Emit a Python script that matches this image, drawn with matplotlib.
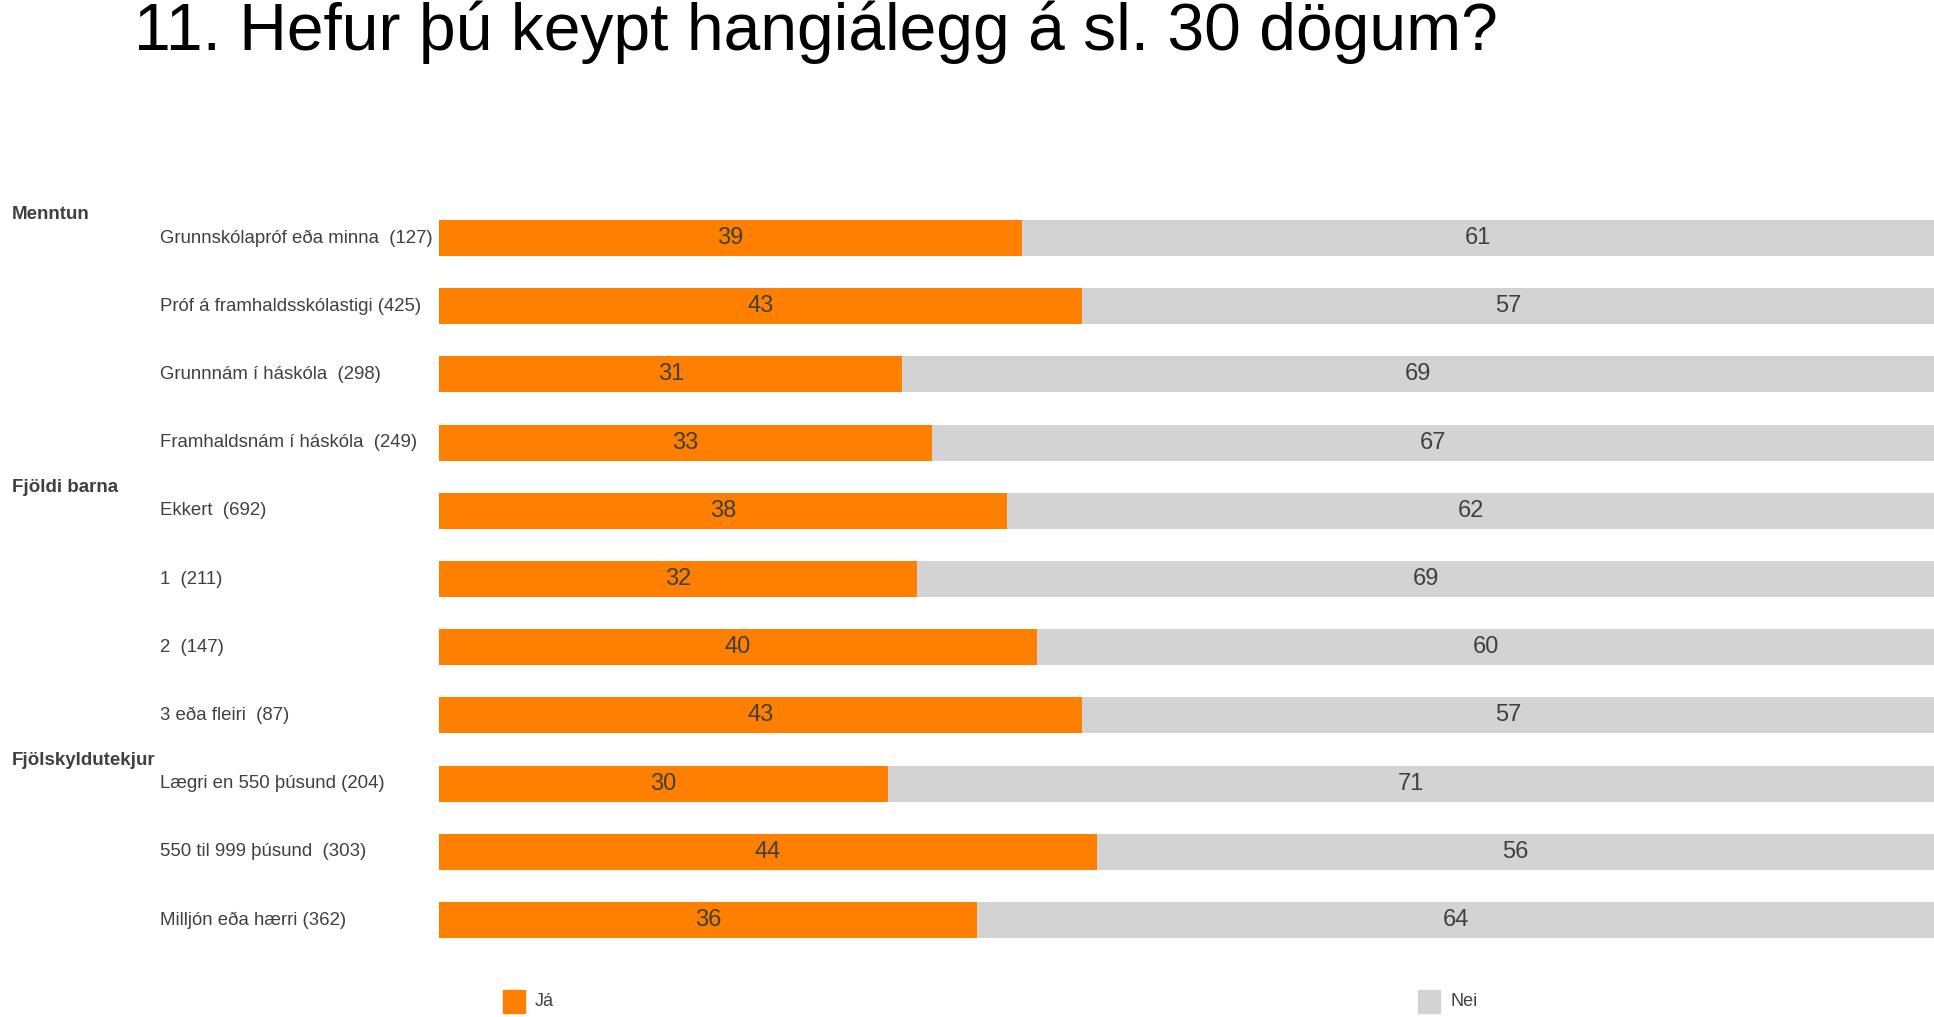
import matplotlib
matplotlib.use("Agg")
import matplotlib.pyplot as plt
from matplotlib.patches import Rectangle
import matplotlib.transforms as mtransforms

plt.rcParams['font.family'] = ['Liberation Sans', 'DejaVu Sans']

title = "11. Hefur þú keypt hangiálegg á sl. 30 dögum?"
categories = [
    "Grunnskólapróf eða minna  (127)",
    "Próf á framhaldsskólastigi (425)",
    "Grunnnám í háskóla  (298)",
    "Framhaldsnám í háskóla  (249)",
    "Ekkert  (692)",
    "1  (211)",
    "2  (147)",
    "3 eða fleiri  (87)",
    "Lægri en 550 þúsund (204)",
    "550 til 999 þúsund  (303)",
    "Milljón eða hærri (362)",
]
groups = ["Menntun", "Fjöldi barna", "Fjölskyldutekjur"]
group_start = [0, 4, 8]
ja = [39, 43, 31, 33, 38, 32, 40, 43, 30, 44, 36]
nei = [61, 57, 69, 67, 62, 69, 60, 57, 71, 56, 64]
series_names = ["Já", "Nei"]
colors = ["#FF8000", "#D3D3D3"]
text_color = "#404040"

W, H = 1934, 1017
fig = plt.figure(figsize=(W / 100, H / 100), dpi=100)
top_c, bot_c = 238, 920
sp = (bot_c - top_c) / 10
ax = fig.add_axes([439 / W, 1 - (bot_c + sp / 2) / H, 1 - 439 / W, (bot_c - top_c + sp) / H])

y = list(range(len(categories)))
bh = 36 / sp
ax.barh(y, ja, height=bh, color=colors[0], left=0)
ax.barh(y, nei, height=bh, color=colors[1], left=ja)
ax.set_xlim(0, 100)
ax.set_ylim(len(categories) - 0.5, -0.5)
ax.axis('off')

for i in y:
    ax.text(ja[i] / 2, i, str(ja[i]), ha='center', va='center', fontsize=17, color=text_color)
    right = min(ja[i] + nei[i], 100)
    ax.text((ja[i] + right) / 2, i, str(nei[i]), ha='center', va='center', fontsize=17, color=text_color)

trans = mtransforms.blended_transform_factory(fig.transFigure, ax.transData)
for i, c in enumerate(categories):
    ax.text(160 / W, i, c, transform=trans, ha='left', va='center', fontsize=13.4, color=text_color)
for g, s in zip(groups, group_start):
    ax.text(12 / W, s - 0.34, g, transform=trans, ha='left', va='center', fontsize=13.5,
            color=text_color, fontweight='bold')

fig.text(134 / W, 1 - 50 / H, title, ha='left', va='baseline', fontsize=47.5, color='black')

# legend
for name, col, x0 in zip(series_names, colors, [503, 1418]):
    fig.patches.append(Rectangle((x0 / W, 1 - 1013 / H), 22 / W, 23 / H,
                                 transform=fig.transFigure, color=col))
    fig.text((x0 + 32) / W, 1 - 1001 / H, name, ha='left', va='center', fontsize=13, color=text_color)

fig.savefig("out.png", dpi=100)
